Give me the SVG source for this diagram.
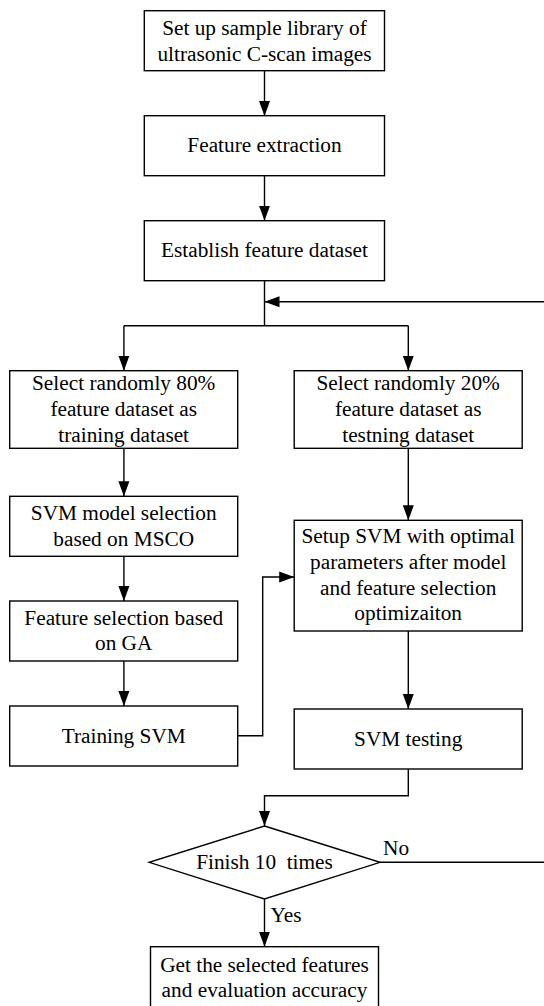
<svg xmlns="http://www.w3.org/2000/svg" width="544" height="1006" viewBox="0 0 544 1006">
<defs>
<marker id="ah" markerUnits="userSpaceOnUse" markerWidth="16" markerHeight="12" refX="15" refY="6" orient="auto">
<path d="M0,0.5 L15,6 L0,11.5 Z" fill="#000"/>
</marker>
<style>
.box{fill:#fff;stroke:#000;stroke-width:1.4}
.t{font-size:21.3px;fill:#000;text-anchor:middle}
.l{font-size:21.3px;fill:#000}
.c{fill:none;stroke:#000;stroke-width:1.4}
.a{marker-end:url(#ah)}
</style>
</defs>
<rect width="544" height="1006" fill="#fff"/>
<g font-family="'Liberation Serif', Tinos, 'Times New Roman', 'DejaVu Serif', serif">
<g id="connectors">
<path class="c a" d="M264.5,71 V116"/>
<path class="c a" d="M264.5,176 V220.7"/>
<path class="c" d="M264.5,280.7 V325.7 M123.9,325.7 H408.3"/>
<path class="c a" d="M123.9,325.7 V370.7"/>
<path class="c a" d="M408.3,325.7 V370.7"/>
<path class="c a" d="M544,301.7 H264.5"/>
<path class="c a" d="M123.9,448.3 V496.3"/>
<path class="c a" d="M123.9,556.3 V601"/>
<path class="c a" d="M123.9,661 V706"/>
<path class="c a" d="M408.3,448.3 V520.3"/>
<path class="c a" d="M408.3,631 V709"/>
<path class="c a" d="M236.5,735.7 H262.7 V577 H294.2"/>
<path class="c a" d="M408.3,769 V795.7 H264.5 V826"/>
<path class="c a" d="M264.5,899 V946.7"/>
<path class="c" d="M380,862.3 H544"/>
<text class="l" x="383" y="855">No</text>
<text class="l" x="270.5" y="921.7">Yes</text>
</g>
<g id="n1">
<rect class="box" x="144.3" y="10.7" width="240.2" height="60"/>
<text class="t" x="264.5" y="35">Set up sample library of</text>
<text class="t" x="264.5" y="61">ultrasonic C-scan images</text>
</g>
<g id="n2">
<rect class="box" x="144.3" y="115.7" width="240.2" height="60"/>
<text class="t" x="264.5" y="152.3">Feature extraction</text>
</g>
<g id="n3">
<rect class="box" x="144.3" y="220.7" width="240.2" height="60"/>
<text class="t" x="264.5" y="256.8">Establish feature dataset</text>
</g>
<g id="n4">
<rect class="box" x="9.7" y="370.7" width="228" height="77.6"/>
<text class="t" x="123.7" y="390.2">Select randomly 80%</text>
<text class="t" x="123.7" y="416">feature dataset as</text>
<text class="t" x="123.7" y="441.8">training dataset</text>
</g>
<g id="n5">
<rect class="box" x="294.2" y="370.7" width="228" height="77.6"/>
<text class="t" x="408.2" y="390.2">Select randomly 20%</text>
<text class="t" x="408.2" y="416">feature dataset as</text>
<text class="t" x="408.2" y="441.8">testning dataset</text>
</g>
<g id="n6">
<rect class="box" x="9.7" y="496.3" width="228" height="60"/>
<text class="t" x="123.7" y="520">SVM model selection</text>
<text class="t" x="123.7" y="545.8">based on MSCO</text>
</g>
<g id="n7">
<rect class="box" x="9.7" y="601" width="228" height="60"/>
<text class="t" x="123.7" y="624.6">Feature selection based</text>
<text class="t" x="123.7" y="650.4">on GA</text>
</g>
<g id="n8">
<rect class="box" x="9.7" y="706" width="228" height="60"/>
<text class="t" x="123.7" y="742.7">Training SVM</text>
</g>
<g id="n9">
<rect class="box" x="294.2" y="520.3" width="228" height="110.7"/>
<text class="t" x="408.2" y="543">Setup SVM with optimal</text>
<text class="t" x="408.2" y="568.8">parameters after model</text>
<text class="t" x="408.2" y="594.6">and feature selection</text>
<text class="t" x="408.2" y="620.4">optimizaiton</text>
</g>
<g id="n10">
<rect class="box" x="294.2" y="709" width="228" height="60"/>
<text class="t" x="408.2" y="745.6">SVM testing</text>
</g>
<g id="n11">
<polygon class="box" points="264.5,826 380,862.3 264.5,899 149.2,862.3"/>
<text class="t" x="264.5" y="869" xml:space="preserve">Finish 10  times</text>
</g>
<g id="n12">
<rect class="box" x="150.5" y="946.7" width="228" height="70"/>
<text class="t" x="264.5" y="971.7">Get the selected features</text>
<text class="t" x="264.5" y="997">and evaluation accuracy</text>
</g>
</g>
</svg>
